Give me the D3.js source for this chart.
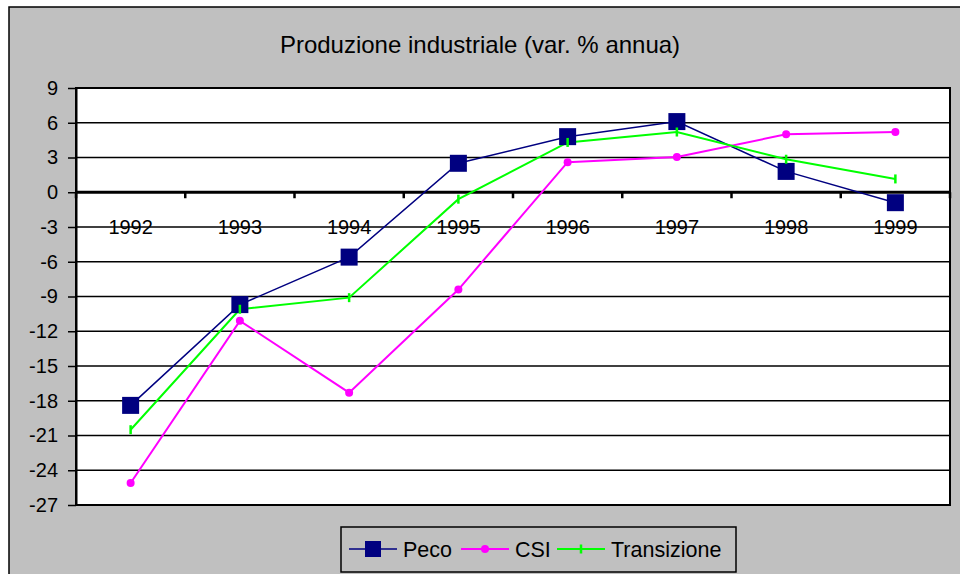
<!DOCTYPE html>
<html>
<head>
<meta charset="utf-8">
<script src="https://cdn.jsdelivr.net/npm/d3@7"></script>
<style>
  body { margin: 0; background: #fff; }
  svg { display: block; font-family: "Liberation Sans", Arial, sans-serif; }
</style>
</head>
<body>
<svg width="960" height="574"></svg>
<script>
var years = ['1992', '1993', '1994', '1995', '1996', '1997', '1998', '1999'];
var yTicks = [9, 6, 3, 0, -3, -6, -9, -12, -15, -18, -21, -24, -27];

var peco = [-18.4, -9.7, -5.6, 2.5, 4.8, 6.1, 1.8, -0.9];
var csi = [-25.1, -11.1, -17.3, -8.4, 2.6, 3.05, 5.0, 5.2];
var transizione = [-20.5, -10.1, -9.1, -0.6, 4.3, 5.2, 2.85, 1.15];

var seriesNames = ['Peco', 'CSI', 'Transizione'];
var seriesColors = ['#000080', '#ff00ff', '#00ff00'];

var svg = d3.select('svg');

// chart area background
svg.append('rect')
    .attr('x', 9).attr('y', 7)
    .attr('width', 960).attr('height', 580)
    .attr('fill', '#c0c0c0')
    .attr('stroke', '#000').attr('stroke-width', 1.5);

svg.append('text')
    .attr('x', 480).attr('y', 53)
    .attr('text-anchor', 'middle')
    .attr('font-size', 24)
    .text('Produzione industriale (var. % annua)');

var plotL = 76, plotR = 950, plotT = 88, plotB = 505;

var x = d3.scaleBand().domain(years).range([plotL, plotR]);
var y = d3.scaleLinear().domain([-27, 9]).range([plotB, plotT]);

svg.append('rect')
    .attr('x', plotL).attr('y', plotT)
    .attr('width', plotR - plotL).attr('height', plotB - plotT)
    .attr('fill', '#fff');

// gridlines
svg.append('g')
    .selectAll('line')
    .data(yTicks)
    .join('line')
    .attr('x1', plotL).attr('x2', plotR)
    .attr('y1', function (d) { return y(d); })
    .attr('y2', function (d) { return y(d); })
    .attr('stroke', '#000')
    .attr('stroke-width', 1.5);

// y axis (plain hyphen for negatives, as in the original)
var yAxis = svg.append('g')
    .attr('transform', 'translate(' + plotL + ',0)')
    .call(d3.axisLeft(y).tickValues(yTicks)
        .tickFormat(function (d) { return String(d); })
        .tickSize(8).tickPadding(10).tickSizeOuter(0));
yAxis.select('.domain').attr('stroke-width', 2);
yAxis.selectAll('.tick line').attr('stroke-width', 1.5);
yAxis.selectAll('text')
    .attr('font-size', 20)
    .attr('font-family', '"Liberation Sans", Arial, sans-serif')
    .attr('fill', '#000');

// plot border
svg.append('rect')
    .attr('x', plotL).attr('y', plotT)
    .attr('width', plotR - plotL).attr('height', plotB - plotT)
    .attr('fill', 'none')
    .attr('stroke', '#000').attr('stroke-width', 2);

// zero line with category ticks
svg.append('line')
    .attr('x1', plotL).attr('x2', plotR)
    .attr('y1', y(0)).attr('y2', y(0))
    .attr('stroke', '#000').attr('stroke-width', 3);

var bounds = years.map(function (d) { return x(d); }).concat([plotR]);
svg.append('g')
    .selectAll('line')
    .data(bounds)
    .join('line')
    .attr('x1', function (d) { return d; })
    .attr('x2', function (d) { return d; })
    .attr('y1', y(0))
    .attr('y2', y(0) + 6)
    .attr('stroke', '#000').attr('stroke-width', 2.5);

svg.append('g')
    .selectAll('text')
    .data(years)
    .join('text')
    .attr('x', function (d) { return x(d) + x.bandwidth() / 2; })
    .attr('y', y(0) + 42)
    .attr('text-anchor', 'middle')
    .attr('font-size', 20)
    .text(function (d) { return d; });

// lines
var allSeries = [peco, csi, transizione];
var cx = function (d, i) { return x(years[i]) + x.bandwidth() / 2; };
var line = d3.line()
    .x(cx)
    .y(function (d) { return y(d); });

var widths = [1.5, 2, 2];
allSeries.forEach(function (s, k) {
    svg.append('path')
        .datum(s)
        .attr('d', line)
        .attr('fill', 'none')
        .attr('stroke', seriesColors[k])
        .attr('stroke-width', widths[k]);
});

// markers
svg.append('g')
    .selectAll('rect')
    .data(peco)
    .join('rect')
    .attr('x', function (d, i) { return cx(d, i) - 8.5; })
    .attr('y', function (d) { return y(d) - 8.5; })
    .attr('width', 17).attr('height', 17)
    .attr('fill', seriesColors[0]);

svg.append('g')
    .selectAll('circle')
    .data(csi)
    .join('circle')
    .attr('cx', cx)
    .attr('cy', function (d) { return y(d); })
    .attr('r', 4)
    .attr('fill', seriesColors[1]);

svg.append('g')
    .selectAll('line')
    .data(transizione)
    .join('line')
    .attr('x1', cx).attr('x2', cx)
    .attr('y1', function (d) { return y(d) - 4.5; })
    .attr('y2', function (d) { return y(d) + 4.5; })
    .attr('stroke', seriesColors[2])
    .attr('stroke-width', 2.5);

// legend
var legend = svg.append('g');
legend.append('rect')
    .attr('x', 341).attr('y', 527)
    .attr('width', 395).attr('height', 45)
    .attr('fill', 'none')
    .attr('stroke', '#000').attr('stroke-width', 1.5);

var legX = [349, 461, 557];
seriesNames.forEach(function (name, k) {
    var lx = legX[k], ly = 549;
    legend.append('line')
        .attr('x1', lx).attr('x2', lx + 48)
        .attr('y1', ly).attr('y2', ly)
        .attr('stroke', seriesColors[k])
        .attr('stroke-width', widths[k]);
    if (k === 0) {
        legend.append('rect')
            .attr('x', lx + 24 - 8).attr('y', ly - 8)
            .attr('width', 16).attr('height', 16)
            .attr('fill', seriesColors[k]);
    } else if (k === 1) {
        legend.append('circle')
            .attr('cx', lx + 24).attr('cy', ly).attr('r', 4)
            .attr('fill', seriesColors[k]);
    } else {
        legend.append('line')
            .attr('x1', lx + 24).attr('x2', lx + 24)
            .attr('y1', ly - 4.5).attr('y2', ly + 4.5)
            .attr('stroke', seriesColors[k]).attr('stroke-width', 2.5);
    }
    legend.append('text')
        .attr('x', lx + 54).attr('y', ly + 7.5)
        .attr('font-size', 21.5)
        .text(name);
});
</script>
</body>
</html>
